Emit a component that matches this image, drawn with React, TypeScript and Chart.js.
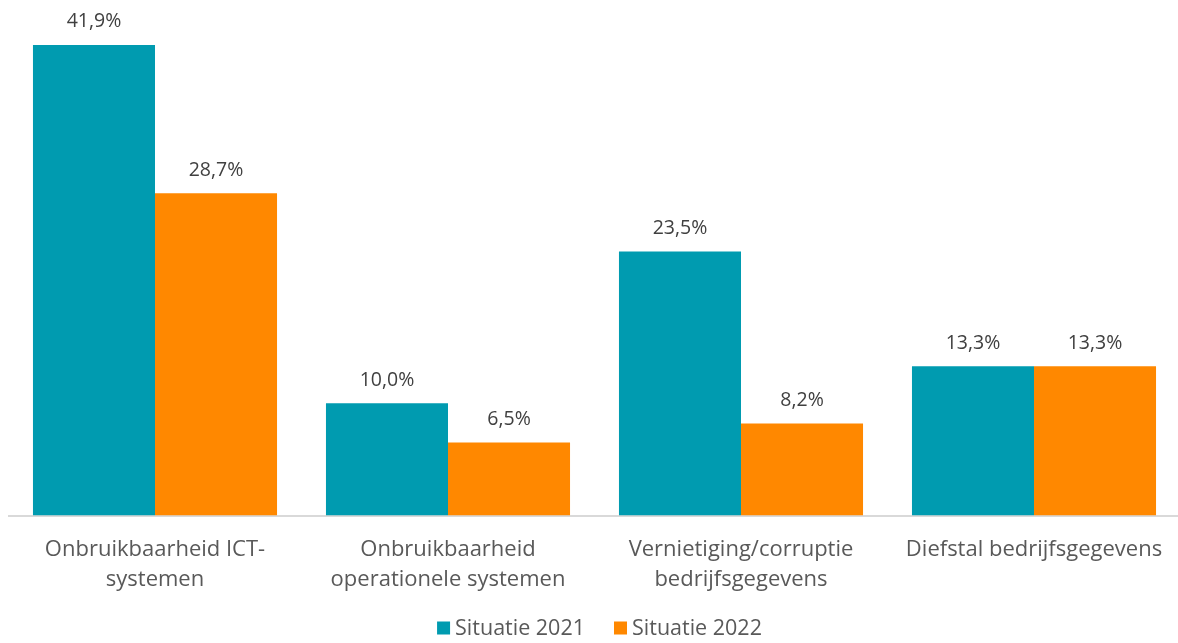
import React, { useEffect, useRef } from "react";
import { Chart, registerables } from "chart.js";

Chart.register(...registerables);

const categories: (string | string[])[] = [
  ["Onbruikbaarheid ICT-", "systemen"],
  ["Onbruikbaarheid", "operationele systemen"],
  ["Vernietiging/corruptie", "bedrijfsgegevens"],
  "Diefstal bedrijfsgegevens",
];
const series2021 = [41.9, 10.0, 23.5, 13.3];
const series2022 = [28.7, 6.5, 8.2, 13.3];
const seriesNames = ["Situatie 2021", "Situatie 2022"];
const seriesColors = ["#009BB0", "#FF8800"];

const FONT = "'Open Sans', 'Noto Sans', sans-serif";

const valueLabels = {
  id: "valueLabels",
  afterDatasetsDraw(chart: any) {
    const ctx = chart.ctx;
    ctx.save();
    ctx.font = `19.5px ${FONT}`;
    ctx.fillStyle = "#404040";
    ctx.textAlign = "center";
    ctx.textBaseline = "middle";
    chart.data.datasets.forEach((ds: any, i: number) => {
      const meta = chart.getDatasetMeta(i);
      meta.data.forEach((bar: any, j: number) => {
        const v = ds.data[j] as number;
        const txt = v.toFixed(1).replace(".", ",") + "%";
        ctx.fillText(txt, bar.x, bar.y - 23);
      });
    });
    ctx.restore();
  },
};

const customLegend = {
  id: "customLegend",
  afterDraw(chart: any) {
    const ctx = chart.ctx;
    ctx.save();
    ctx.font = `21.5px ${FONT}`;
    ctx.textBaseline = "middle";
    ctx.textAlign = "left";
    const box = 13;
    const gap = 5;
    const itemGap = 29;
    const widths = chart.data.datasets.map((ds: any) => box + gap + ctx.measureText(ds.label).width);
    const total = widths.reduce((a: number, b: number) => a + b, 0) + itemGap * (widths.length - 1);
    const cx = (chart.chartArea.left + chart.chartArea.right) / 2 + 5;
    let x = cx - total / 2;
    const y = chart.height - 15;
    chart.data.datasets.forEach((ds: any, i: number) => {
      ctx.fillStyle = ds.backgroundColor;
      ctx.fillRect(x, y - box / 2, box, box);
      ctx.fillStyle = "#595959";
      ctx.fillText(ds.label, x + box + gap, y + 1);
      x += widths[i] + itemGap;
    });
    ctx.restore();
  },
};

export default function App() {
  const ref = useRef<HTMLCanvasElement>(null);
  useEffect(() => {
    if (!ref.current) return;
    const chart = new Chart(ref.current, {
      type: "bar",
      data: {
        labels: categories,
        datasets: [
          {
            label: seriesNames[0],
            data: series2021,
            backgroundColor: seriesColors[0],
            barPercentage: 1,
            categoryPercentage: 0.833,
          },
          {
            label: seriesNames[1],
            data: series2022,
            backgroundColor: seriesColors[1],
            barPercentage: 1,
            categoryPercentage: 0.833,
          },
        ],
      },
      options: {
        animation: false,
        responsive: false,
        maintainAspectRatio: false,
        layout: { padding: { left: 8.5, right: 9.5, top: 0, bottom: 47.5 } },
        scales: {
          x: {
            grid: { display: false },
            border: { display: true, color: "#D9D9D9", width: 2 },
            ticks: {
              color: "#595959",
              font: { family: FONT, size: 22, lineHeight: 30 / 22 },
              padding: 11,
              maxRotation: 0,
              autoSkip: false,
            },
            afterFit(scale: any) {
              scale.height = 80;
            },
          },
          y: {
            display: false,
            min: 0,
            max: 45.9,
          },
        },
        plugins: {
          legend: { display: false },
          tooltip: { enabled: false },
        },
      },
      plugins: [valueLabels, customLegend],
    });
    return () => chart.destroy();
  }, []);
  return (
    <div
      style={{
        position: "fixed",
        left: 0,
        top: 0,
        width: 1178,
        height: 643,
        overflow: "hidden",
        background: "#fff",
      }}
    >
      <canvas ref={ref} width={1190} height={643} style={{ width: 1190, height: 643, display: "block" }} />
    </div>
  );
}
